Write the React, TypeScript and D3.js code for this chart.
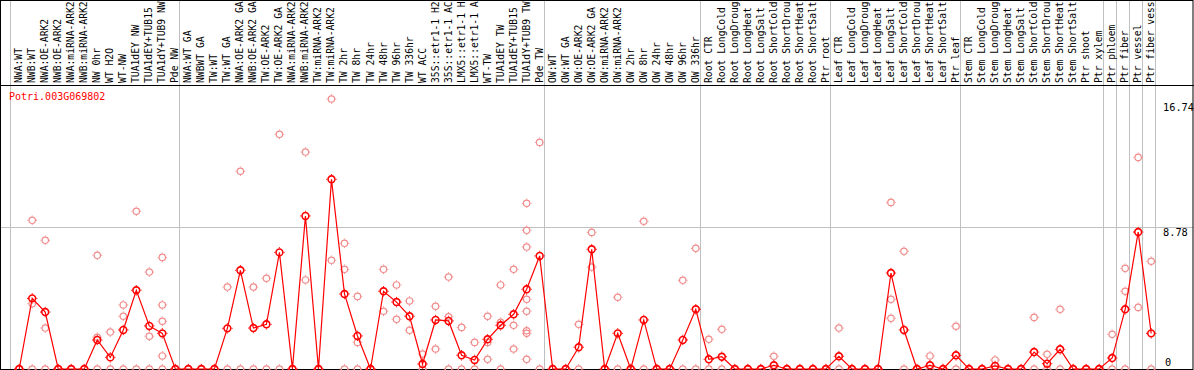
import { useEffect, useRef } from "react";
import * as d3 from "d3";

const geneId = "Potri.003G069802";

const sampleLabels = [
  "NWA:WT", "NWB:WT", "NWA:OE-ARK2", "NWB:OE-ARK2", "NWA:miRNA-ARK2", "NWB:miRNA-ARK2",
  "NW 0hr", "WT H2O", "WT-NW", "TUA1dEY NW", "TUA1dEY+TUB15 NW", "TUA1dY+TUB9 NW", "Pde NW",
  "NWA:WT GA", "NWBWT GA", "TW:WT", "TW:WT GA", "NWA:OE-ARK2 GA", "NWB:OE-ARK2 GA",
  "TW:OE-ARK2", "TW:OE-ARK2 GA", "NWA:miRNA-ARK2 GA", "NWB:miRNA-ARK2 GA", "TW:miRNA-ARK2",
  "TW:miRNA-ARK2 GA", "TW 2hr", "TW 8hr", "TW 24hr", "TW 48hr", "TW 96hr", "TW 336hr",
  "WT ACC", "35S::etr1-1 H2O", "35S::etr1-1 ACC", "LMX5::etr1-1 H2O", "LMX5::etr1-1 ACC",
  "WT-TW", "TUA1dEY TW", "TUA1dEY+TUB15 TW", "TUA1dY+TUB9 TW", "Pde TW",
  "OW:WT", "OW:WT GA", "OW:OE-ARK2", "OW:OE-ARK2 GA", "OW:miRNA-ARK2", "OW:miRNA-ARK2 GA",
  "OW 2hr", "OW 8hr", "OW 24hr", "OW 48hr", "OW 96hr", "OW 336hr",
  "Root CTR", "Root LongCold", "Root LongDrought", "Root LongHeat", "Root LongSalt",
  "Root ShortCold", "Root ShortDrought", "Root ShortHeat", "Root ShortSalt", "Ptr root",
  "Leaf CTR", "Leaf LongCold", "Leaf LongDrought", "Leaf LongHeat", "Leaf LongSalt",
  "Leaf ShortCold", "Leaf ShortDrought", "Leaf ShortHeat", "Leaf ShortSalt", "Ptr leaf",
  "Stem CTR", "Stem LongCold", "Stem LongDrought", "Stem LongHeat", "Stem LongSalt",
  "Stem ShortCold", "Stem ShortDrought", "Stem ShortHeat", "Stem ShortSalt", "Ptr shoot",
  "Ptr xylem", "Ptr phloem", "Ptr fiber", "Ptr vessel", "Ptr fiber vessel",
];

const meanValues = [
  0, 4.38, 3.53, 0, 0, 0, 1.8, 0.72, 2.42, 4.88, 2.67, 2.21, 0,
  0, 0, 0, 2.52, 6.12, 2.54, 2.77, 7.23, 0, 9.49, 0, 11.76, 4.65, 2.05, 0,
  4.82, 4.15, 3.27, 0.31, 3.04, 2.98, 0.85, 0.56, 1.84, 2.71, 3.39, 4.94, 7.01,
  0, 0, 1.35, 7.42, 0, 2.21, 0, 3.04, 0, 0, 1.8, 3.7,
  0.6, 0.76, 0, 0, 0, 0.23, 0, 0, 0, 0,
  0.79, 0, 0, 0, 5.95, 2.42, 0, 0.23, 0, 0.85,
  0, 0, 0.19, 0, 0, 1.05, 0.33, 1.22, 0, 0, 0,
  0.68, 3.7, 8.49, 2.21,
];

const replicateValues: number[][] = [
  [0], [9.22, 4.05, 0], [7.98, 2.54, 0], [0], [0], [0], [7.05, 1.97, 0], [2.29, 0],
  [3.97, 3.27, 0], [9.78, 0], [6.01, 2.03, 0], [6.92, 3.97, 2.96, 0.81, 0], [0],
  [0], [0], [0], [5.08, 0], [12.26, 0], [5.08, 0], [5.62, 0], [14.55, 0], [0],
  [13.45, 5.52], [0], [16.74, 6.74], [7.79, 6.18, 0], [4.5, 1.65, 0], [0],
  [6.18, 3.58], [5.21, 3.08], [4.22, 2.4], [0.93, 0], [3.89, 1.24], [5.7, 3.24, 0],
  [2.58, 0], [1.65, 0], [3.27, 1.65, 0.6], [5.21, 2.9, 0], [6.18, 2.71, 1.24],
  [10.27, 8.6, 7.56, 4.32, 3.58, 2.37, 2.21, 0.6], [14.05, 0],
  [0], [0], [2.77, 0], [8.47, 6.32], [0], [4.45, 0], [0], [9.16, 0], [0], [0],
  [5.5, 0], [7.48, 0],
  [1.84, 0], [2.46, 0], [0], [0], [0], [0.79, 0], [0], [0], [0], [0],
  [2.54, 0], [0], [0], [0], [10.33, 4.32, 3.14], [7.3, 0], [0], [0.81, 0], [0], [2.65, 0],
  [0], [0], [0.56, 0], [0], [0], [3.2, 0], [0.91, 0], [3.7, 0], [0], [0], [0],
  [2.15, 0], [6.24, 4.82, 0], [13.12, 3.82], [6.68, 0],
];

// first column of each tissue group, last entry closes the final group
const groupStarts = [0, 13, 41, 53, 63, 73, 84, 85, 86, 87, 88];
const axisTicks = [0, 8.78, 16.74];

const mono = "'DejaVu Sans Mono', monospace";

export default function App() {
  const svgRef = useRef<SVGSVGElement | null>(null);

  useEffect(() => {
    if (!svgRef.current) return;
    const svg = d3.select(svgRef.current);
    svg.selectAll("*").remove();

    const width = 1194;
    const bottom = 369;
    const headerY = 85.5;

    const x = d3
      .scaleBand<number>()
      .domain(d3.range(sampleLabels.length))
      .range([10.7, 1155.7]);
    const y = d3.scaleLinear().domain([0, 16.74]).range([bottom, 99]);
    const cx = (i: number) => (x(i) ?? 0) + 8.5;
    const edge = (i: number) =>
      Math.floor(i < sampleLabels.length ? x(i) ?? 0 : x.range()[1]) + 0.5;

    // group separators
    svg
      .append("g")
      .selectAll("line")
      .data(groupStarts)
      .join("line")
      .attr("x1", (d) => edge(d))
      .attr("x2", (d) => edge(d))
      .attr("y1", 0)
      .attr("y2", bottom)
      .attr("stroke", "#c0c0c0");

    // horizontal grid at the middle tick
    svg
      .append("line")
      .attr("x1", 1)
      .attr("x2", width - 1)
      .attr("y1", Math.round(y(8.78)) + 0.5)
      .attr("y2", Math.round(y(8.78)) + 0.5)
      .attr("stroke", "#c0c0c0");

    // sample names (clipped by the top edge, as in the source)
    svg
      .append("g")
      .selectAll("text")
      .data(sampleLabels)
      .join("text")
      .attr("transform", (_, i) => `translate(${cx(i) + 3},83) rotate(-90)`)
      .attr("font-family", mono)
      .attr("font-size", 9.7)
      .attr("fill", "#000")
      .text((d) => d);

    // frame
    svg
      .append("rect")
      .attr("x", 0.5)
      .attr("y", 0.5)
      .attr("width", width - 1.5)
      .attr("height", bottom)
      .attr("fill", "none")
      .attr("stroke", "#000");
    svg
      .append("line")
      .attr("x1", 0)
      .attr("x2", width)
      .attr("y1", headerY)
      .attr("y2", headerY)
      .attr("stroke", "#000");

    // right axis labels
    svg
      .append("g")
      .selectAll("text")
      .data(axisTicks)
      .join("text")
      .attr("x", (d) => (d === 0 ? 1165 : 1163))
      .attr("y", (d) => Math.min(Math.max(y(d) + 8.5, 110.5), 366))
      .attr("font-family", mono)
      .attr("font-size", 10.3)
      .attr("fill", "#000")
      .text((d) => (d === 0 ? "0" : d.toFixed(2)));

    svg
      .append("text")
      .attr("x", 9)
      .attr("y", 100)
      .attr("font-family", mono)
      .attr("font-size", 10)
      .attr("fill", "#ff0000")
      .text(geneId);

    const marker = (
      g: d3.Selection<SVGGElement, unknown, null, undefined>,
      px: number,
      py: number,
      r: number,
      color: string,
      sw: number,
    ) => {
      g.append("circle")
        .attr("cx", px)
        .attr("cy", py)
        .attr("r", r)
        .attr("fill", "none")
        .attr("stroke", color)
        .attr("stroke-width", sw);
      const o = r + sw / 2;
      g.append("path")
        .attr(
          "d",
          `M${px},${py - o - 1}V${py - o}M${px},${py + o}V${py + o + 1}` +
            `M${px - o - 1},${py}H${px - o}M${px + o},${py}H${px + o + 1}`,
        )
        .attr("stroke", color)
        .attr("stroke-width", 1);
    };

    const reps = svg.append("g");
    replicateValues.forEach((vals, i) => {
      vals.forEach((v) => marker(reps, cx(i), y(v), 3.2, "#f08c8c", 1.2));
    });

    const line = d3
      .line<number>()
      .x((_, i) => cx(i))
      .y((d) => y(d));
    svg
      .append("path")
      .attr("d", line(meanValues) ?? "")
      .attr("fill", "none")
      .attr("stroke", "#ff0000")
      .attr("stroke-width", 1.2);

    const means = svg.append("g");
    meanValues.forEach((v, i) => marker(means, cx(i), y(v), 3.4, "#ff0000", 1.6));
  }, []);

  return (
    <svg
      ref={svgRef}
      width={1194}
      height={370}
      style={{ position: "absolute", left: 0, top: 0, background: "#fff" }}
    />
  );
}
